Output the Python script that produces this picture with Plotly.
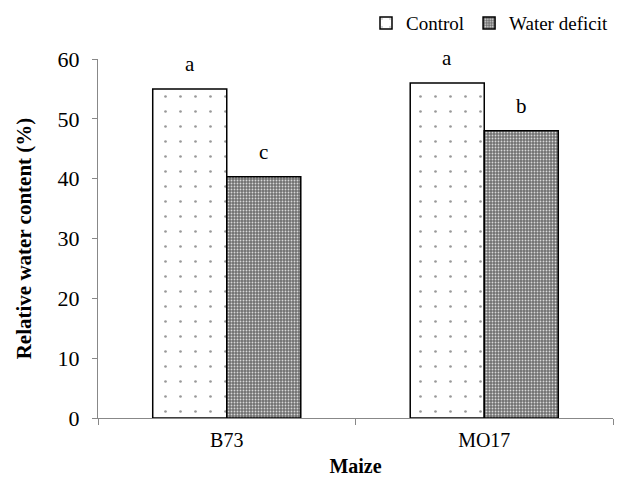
import plotly.graph_objects as go

categories = ["B73", "MO17"]
control = [55.0, 56.0]
water_deficit = [40.3, 48.0]
control_letters = ["a", "a"]
deficit_letters = ["c", "b"]
y_ticks = [0, 10, 20, 30, 40, 50, 60]

FONT = "Liberation Serif, Times New Roman, serif"

fig = go.Figure()
fig.add_trace(go.Bar(
    name="Control", x=categories, y=control, offsetgroup="c",
    marker=dict(color="white", line=dict(color="black", width=1.5),
                pattern=dict(shape=".", fgcolor="#333333", bgcolor="white",
                             size=15, solidity=0.025, fillmode="overlay")),
))
fig.add_trace(go.Bar(
    name="Water deficit", x=categories, y=water_deficit, offsetgroup="w",
    marker=dict(color="#707070", line=dict(color="black", width=1.5),
                pattern=dict(shape=".", fgcolor="#d8d8d8", bgcolor="#707070",
                             size=3, solidity=0.3, fillmode="replace")),
))

# significance letters above bars (positioned by data values)
for i, cat in enumerate(categories):
    fig.add_annotation(x=cat, y=control[i], text=control_letters[i], xref="x", yref="y",
                       xshift=-37, yshift=11, yanchor="bottom", showarrow=False,
                       font=dict(family=FONT, size=21, color="black"))
    fig.add_annotation(x=cat, y=water_deficit[i], text=deficit_letters[i], xref="x", yref="y",
                       xshift=37, yshift=11, yanchor="bottom", showarrow=False,
                       font=dict(family=FONT, size=21, color="black"))

# page body adds an 8px offset; compensate so plot sits where the reference has it
fig.update_layout(
    width=616, height=470,
    barmode="group", bargap=0.425, bargroupgap=0,
    plot_bgcolor="white", paper_bgcolor="white",
    font=dict(family=FONT, size=20, color="black"),
    margin=dict(l=90, r=11, t=51, b=60, autoexpand=False),
    showlegend=True,
    legend=dict(orientation="h", x=1.0, xanchor="right", y=1.1, yanchor="middle",
                font=dict(family=FONT, size=19), itemwidth=30,
                traceorder="normal", bgcolor="rgba(0,0,0,0)"),
)
fig.update_xaxes(
    showline=True, linecolor="#888888", linewidth=1,
    ticks="outside", tickson="boundaries", ticklen=6, tickcolor="#888888",
    ticklabelstandoff=4,
    title=dict(text="<b>Maize</b>", font=dict(family=FONT, size=20), standoff=8),
    tickfont=dict(family=FONT, size=20),
)
fig.update_yaxes(
    range=[0, 60], tickvals=y_ticks, showgrid=False, zeroline=False,
    showline=True, linecolor="#888888", linewidth=1,
    ticks="outside", ticklen=5, tickcolor="#888888", ticklabelstandoff=8,
    title=dict(text="<b>Relative water content (%)</b>", font=dict(family=FONT, size=21), standoff=20),
    tickfont=dict(family=FONT, size=22),
)

fig.write_html("out.html")
